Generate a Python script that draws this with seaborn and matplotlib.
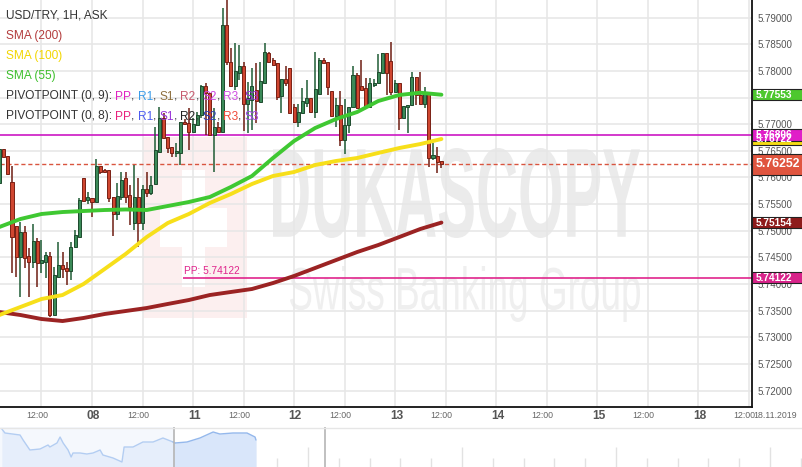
import matplotlib
matplotlib.use("Agg")
import numpy as np
import pandas as pd
import seaborn as sns
import matplotlib.pyplot as plt
import matplotlib.transforms as mtransforms
from matplotlib.patches import Rectangle, PathPatch
from matplotlib.textpath import TextPath
from matplotlib.font_manager import FontProperties

sns.set_theme(style="white")
plt.rcParams["font.family"] = ["Liberation Sans", "DejaVu Sans"]

# ---- data -------------------------------------------------------------
# hourly candles, hour 0 = 08.11.2019 00:00 (weekend skipped)
hours = np.arange(-22, 84)
opens = [5.75897, 5.76535, 5.76403, 5.75915, 5.75089, 5.74508, 5.74977, 5.74527, 5.74414, 5.74808,
         5.74396, 5.74414, 5.74527, 5.73420, 5.74133, 5.74358, 5.74302, 5.74245, 5.74696, 5.74883,
         5.75991, 5.75578, 5.75616, 5.75540, 5.76215, 5.76141, 5.76141, 5.75634, 5.75315, 5.75634,
         5.75991, 5.75671, 5.75146, 5.75634, 5.75146, 5.75784, 5.75709, 5.75878, 5.76478, 5.77116,
         5.76760, 5.76572, 5.76460, 5.76460, 5.77041, 5.77023, 5.76853, 5.76985, 5.77172, 5.77716,
         5.77585, 5.76797, 5.76948, 5.76853, 5.78861, 5.78166, 5.77716, 5.77960, 5.78092, 5.77379,
         5.77454, 5.77641, 5.77416, 5.77773, 5.78336, 5.78204, 5.78148, 5.77529, 5.77848, 5.78054,
         5.77323, 5.77041, 5.77210, 5.77398, 5.77491, 5.77229, 5.77566, 5.78204, 5.78166, 5.77623,
         5.77154, 5.77360, 5.76703, 5.76985, 5.77323, 5.77923, 5.77716, 5.77679, 5.77323, 5.77735,
         5.77773, 5.77960, 5.78336, 5.78186, 5.77604, 5.77773, 5.77116, 5.77323, 5.77360, 5.77885,
         5.77548, 5.77379, 5.77604, 5.76366, 5.76403, 5.76310]
highs = [5.76535, 5.76535, 5.76403, 5.76215, 5.75089, 5.75164, 5.75089, 5.74677, 5.75127, 5.74865,
         5.74827, 5.74602, 5.74602, 5.74321, 5.74789, 5.74602, 5.74414, 5.74789, 5.75015, 5.75616,
         5.75991, 5.75727, 5.75616, 5.76347, 5.76215, 5.76160, 5.76141, 5.75634, 5.75897, 5.76103,
         5.76103, 5.75859, 5.76234, 5.75991, 5.75859, 5.76103, 5.76028, 5.76948, 5.77323, 5.77210,
         5.76760, 5.76572, 5.76647, 5.77041, 5.77098, 5.77304, 5.77116, 5.77229, 5.77735, 5.77773,
         5.77585, 5.77304, 5.77041, 5.79180, 5.79350, 5.78430, 5.78524, 5.78486, 5.78166, 5.77791,
         5.78054, 5.78148, 5.78166, 5.78524, 5.78355, 5.78242, 5.78148, 5.77848, 5.78092, 5.78054,
         5.77379, 5.77379, 5.77679, 5.77829, 5.77491, 5.78355, 5.78242, 5.78242, 5.78166, 5.77623,
         5.77491, 5.77623, 5.77472, 5.77323, 5.78092, 5.77960, 5.78204, 5.77867, 5.77867, 5.77848,
         5.78317, 5.78336, 5.78336, 5.78542, 5.77829, 5.77773, 5.77341, 5.77360, 5.77979, 5.77885,
         5.77979, 5.77697, 5.77604, 5.76647, 5.76572, 5.76310]
lows = [5.75897, 5.76384, 5.76066, 5.74208, 5.74133, 5.73758, 5.74302, 5.73758, 5.74302, 5.73946,
        5.74208, 5.74114, 5.73383, 5.73420, 5.74133, 5.74114, 5.73983, 5.74077, 5.74696, 5.74883,
        5.75559, 5.75503, 5.75259, 5.75540, 5.76066, 5.76084, 5.75540, 5.74902, 5.75202, 5.75578,
        5.75522, 5.75108, 5.75015, 5.74696, 5.75015, 5.75634, 5.75671, 5.75878, 5.76478, 5.76741,
        5.76460, 5.76384, 5.76384, 5.76234, 5.76985, 5.76516, 5.76853, 5.76966, 5.77116, 5.76797,
        5.76797, 5.76103, 5.76853, 5.76853, 5.78110, 5.77716, 5.77641, 5.77829, 5.76872, 5.76835,
        5.76891, 5.77023, 5.77416, 5.77773, 5.78166, 5.78110, 5.77454, 5.77210, 5.77716, 5.77210,
        5.77023, 5.76948, 5.77210, 5.77323, 5.77229, 5.77116, 5.77566, 5.78148, 5.77548, 5.77154,
        5.76948, 5.76591, 5.76441, 5.76835, 5.77323, 5.77285, 5.77641, 5.77323, 5.77323, 5.77697,
        5.77773, 5.77960, 5.77548, 5.77548, 5.77604, 5.76891, 5.77116, 5.76835, 5.77360, 5.77360,
        5.77379, 5.77304, 5.76197, 5.76328, 5.76084, 5.76178]
closes = [5.76535, 5.76384, 5.76066, 5.74883, 5.74508, 5.74977, 5.74490, 5.74414, 5.74808, 5.74396,
          5.74452, 5.74546, 5.73420, 5.74170, 5.74358, 5.74283, 5.74245, 5.74696, 5.74921, 5.75578,
          5.75559, 5.75634, 5.75540, 5.76215, 5.76103, 5.76103, 5.75616, 5.75315, 5.75652, 5.75953,
          5.75634, 5.75447, 5.75634, 5.75146, 5.75784, 5.75709, 5.75859, 5.76516, 5.77116, 5.76741,
          5.76553, 5.76460, 5.76497, 5.77041, 5.77004, 5.76853, 5.77004, 5.77172, 5.77716, 5.77585,
          5.76797, 5.76948, 5.76853, 5.78861, 5.78166, 5.77716, 5.77998, 5.78092, 5.77379, 5.77491,
          5.77716, 5.77435, 5.77810, 5.78355, 5.78166, 5.78110, 5.77510, 5.77848, 5.77773, 5.77210,
          5.77041, 5.77229, 5.77435, 5.77491, 5.77229, 5.77660, 5.78204, 5.78148, 5.77697, 5.77154,
          5.77360, 5.76703, 5.76985, 5.77323, 5.77923, 5.77304, 5.77641, 5.77323, 5.77773, 5.77773,
          5.77979, 5.78336, 5.77960, 5.77604, 5.77773, 5.77116, 5.77341, 5.77360, 5.77885, 5.77548,
          5.77379, 5.77604, 5.76366, 5.76422, 5.76291, 5.76252]

# moving averages, read every 5 candles
sma_hours = np.arange(-22, 84, 5)
sma55 = [5.75071, 5.75221, 5.75315, 5.75352, 5.75371, 5.75390, 5.75400, 5.75390, 5.75465, 5.75540, 5.75634,
         5.75822, 5.76028, 5.76366, 5.76685, 5.76928, 5.77098, 5.77229, 5.77435, 5.77548, 5.77590, 5.77553]
sma100 = [5.73420, 5.73570, 5.73720, 5.73795, 5.74002, 5.74283, 5.74565, 5.74883, 5.75146, 5.75315, 5.75522,
          5.75690, 5.75878, 5.76028, 5.76103, 5.76234, 5.76310, 5.76366, 5.76460, 5.76553, 5.76628, 5.76722]
sma200 = [5.73476, 5.73420, 5.73345, 5.73307, 5.73364, 5.73439, 5.73495, 5.73551, 5.73627, 5.73701, 5.73795,
          5.73852, 5.73908, 5.74020, 5.74152, 5.74302, 5.74452, 5.74602, 5.74733, 5.74883, 5.75034, 5.75154]

pivot_r = 5.76806
pivot_pp = 5.74122
pp_start = 21.6
last_price = closes[-1]

# x axis labels
time_ticks = [-12, 12, 36, 60, 84, 108, 132, 156]
day_ticks = [0, 24, 48, 72, 96, 120, 144]
day_labels = ["08", "11", "12", "13", "14", "15", "18"]
price_ticks = np.arange(5.72, 5.7901, 0.005)

# navigator series (days, relative level)
nav_t = [0.06, 0.16, 0.65, 0.75, 0.97, 1.30, 1.56, 1.62, 1.85, 1.95, 2.05, 2.21, 2.31, 2.37, 2.60, 2.82,
         3.02, 3.25, 3.34, 3.67, 3.96, 4.03, 4.32, 4.64, 4.97, 5.29, 5.62, 5.68, 6.07, 6.49, 6.92, 7.14,
         7.56, 8.02, 8.28, 8.31]
nav_v = [38, 34, 32, 27, 17, 18, 22, 20, 24, 30, 24, 17, 10, 14, 14, 13, 14, 17, 12, 9, 5, 20, 20, 25,
         25, 29, 25, 24, 25, 29, 35, 33, 34, 34, 30, 27]

# ---- figure -----------------------------------------------------------
W, H = 803, 467
AXW, AXH = 752, 407
fig = plt.figure(figsize=(W / 100, H / 100), dpi=100)
ax = fig.add_axes([0, (H - AXH) / H, AXW / W, AXH / H])
ax.set_xlim(-21.85, 156.77)
ax.set_ylim(5.71694, 5.79330)
px_price = (5.79330 - 5.71694) / AXH

# pixel transform inside main axes (x right, y down from top-left)
px = mtransforms.Affine2D().scale(1 / AXW, -1 / AXH).translate(0, 1) + ax.transAxes
blend = mtransforms.blended_transform_factory(ax.transAxes, ax.transData)

# grid + right price axis (the 5.775 label sits fully under the SMA55 box)
ax.set_axisbelow(True)
ax.set_yticks(price_ticks)
ax.set_yticklabels(["" if abs(v - 5.775) < 1e-6 else f"{v:.5f}" for v in price_ticks])
ax.set_xticks(np.arange(-12, 157, 12))
ax.grid(True, color="#e6e6e6", lw=1.1)
ax.yaxis.tick_right()
ax.tick_params(axis="y", length=0, pad=4, labelsize=7, labelcolor="#555555")
ax.tick_params(axis="x", length=0, labelbottom=False)
for s in ["left", "top"]:
    ax.spines[s].set_visible(False)
for s in ["right", "bottom"]:
    ax.spines[s].set_color("#111111")
    ax.spines[s].set_linewidth(1.3)

# watermark
ax.add_patch(Rectangle((143, 137), 104, 181, transform=px, fc="#fcefef", ec="none", zorder=0.2))
ax.add_patch(Rectangle((182, 170), 23, 117, transform=px, fc="white", ec="none", zorder=0.25))
ax.add_patch(Rectangle((160, 208), 67, 39, transform=px, fc="white", ec="none", zorder=0.25))


def fit_text(s, box, color, weight):
    tp = TextPath((0, 0), s, size=100, prop=FontProperties(family="Liberation Sans", weight=weight))
    bb = tp.get_extents()
    x0, y0, x1, y1 = box
    tr = (mtransforms.Affine2D().translate(-bb.x0, -bb.y0)
          .scale((x1 - x0) / bb.width, -(y1 - y0) / bb.height).translate(x0, y1))
    ax.add_patch(PathPatch(tr.transform_path(tp), transform=px, fc=color, ec="none", zorder=0.3))


fit_text("DUKASCOPY", (273, 148, 640, 238), "#ebebeb", "bold")
fit_text("Swiss Banking Group", (290, 266, 640, 322), "#efefef", "normal")

# horizontal levels
ax.axhline(last_price, color="#d9553f", lw=1, ls=(0, (3, 2)), zorder=1)
ax.axhline(pivot_r, color="#cc18c4", lw=1.2, zorder=1)
ax.hlines(pivot_pp, pp_start, 156.77, color="#e0258c", lw=1.2, zorder=1)
ax.text(pp_start + 0.3, pivot_pp + 1.2 * px_price, f"PP: {pivot_pp:.5f}", color="#e0258c",
        fontsize=7.3, ha="left", va="bottom", zorder=1)

# candles
df = pd.DataFrame({"hour": hours, "open": opens, "high": highs, "low": lows, "close": closes})
up = (df["close"] >= df["open"]).values
body_bottom = np.minimum(df["open"], df["close"])
body_h = np.maximum((df["close"] - df["open"]).abs(), 0.00016)
ax.vlines(df["hour"], df["low"], df["high"], colors=np.where(up, "#1f5c35", "#6e1d12"),
          lw=1.1, zorder=2.9)
ax.bar(df["hour"], body_h, bottom=body_bottom, width=0.72,
       color=np.where(up, "#3b8a58", "#cf4630"), edgecolor=np.where(up, "#1e4b2e", "#7a2014"),
       linewidth=0.7, zorder=3)

# moving averages
sns.lineplot(x=sma_hours, y=sma200, ax=ax, color="#9b2323", lw=2.8, zorder=4)
sns.lineplot(x=sma_hours, y=sma100, ax=ax, color="#f7df1a", lw=2.8, zorder=4)
sns.lineplot(x=sma_hours, y=sma55, ax=ax, color="#3fc832", lw=2.8, zorder=4)
ax.set_xlabel("")
ax.set_ylabel("")


# price boxes on the right axis
def price_box(value, fc, h_px, size, tc="white"):
    ax.add_patch(Rectangle((1.0, value - h_px / 2 * px_price), 51 / AXW, h_px * px_price,
                           transform=blend, fc=fc, ec="#222222", lw=0.8, clip_on=False, zorder=7))
    ax.text(1.0 + 3.5 / AXW, value, f"{value:.5f}", transform=blend, color=tc, fontsize=size,
            fontweight="bold", ha="left", va="center", clip_on=False, zorder=7.1)


price_box(sma100[-1], "#f5dc14", 11, 7.3)
price_box(pivot_r, "#e01fc8", 12, 7.3)
price_box(sma55[-1], "#4dc82e", 11, 7.3)
price_box(sma200[-1], "#8e1b1b", 11, 7.3)
price_box(pivot_pp, "#d8238a", 11, 7.3)
price_box(last_price, "#e0553f", 21, 8.8)

# x labels
lab_y = -9 / AXH
xt = mtransforms.blended_transform_factory(ax.transData, ax.transAxes)
for t in time_ticks:
    ax.text(t - 1.1, lab_y, "12:00", transform=xt, fontsize=6.3, color="#666666",
            ha="center", va="center", clip_on=False)
for t, lab in zip(day_ticks, day_labels):
    ax.text(t + 0.3, lab_y, lab, transform=xt, fontsize=8.6, fontweight="bold", color="#555555",
            ha="center", va="center", clip_on=False)
fig.text(775 / W, (H - 416) / H, "18.11.2019", fontsize=6.3, color="#666666", ha="center", va="center")

# legend lines (multi-coloured)
fig.canvas.draw()
renderer = fig.canvas.get_renderer()
fp = FontProperties(family=["Liberation Sans", "DejaVu Sans"], size=8.6)


def text_width(s):
    w = renderer.get_text_width_height_descent(s + "X", fp, ismath=False)[0]
    wx = renderer.get_text_width_height_descent("X", fp, ismath=False)[0]
    return w - wx


def color_line(y, parts):
    x = 6
    for s, c in parts:
        ax.text(x, y, s, transform=px, color=c, fontproperties=fp, ha="left", va="center", zorder=8)
        x += text_width(s)


dark = "#333333"
color_line(15, [("USD/TRY, 1H, ASK", dark)])
color_line(35.5, [("SMA (200)", "#b33c3c")])
color_line(56, [("SMA (100)", "#f2d600")])
color_line(76, [("SMA (55)", "#3dbf2b")])
piv9 = [("PP", "#e022c0"), ("R1", "#3b9be8"), ("S1", "#8e7040"), ("R2", "#c65a6e"),
        ("S2", "#cc40e0"), ("R3", "#d050e0"), ("S3", "#9b30d9")]
piv8 = [("PP", "#e8207e"), ("R1", "#4c5cf0"), ("S1", "#9a36d8"), ("R2", "#222222"),
        ("S2", "#2e3fb8"), ("R3", "#f04a3a"), ("S3", "#a648ee")]
for y, head, items in [(96.5, "PIVOTPOINT (0, 9): ", piv9), (116.5, "PIVOTPOINT (0, 8): ", piv8)]:
    parts = [(head, dark)]
    for i, (s, c) in enumerate(items):
        parts.append((s, c))
        if i < len(items) - 1:
            parts.append((", ", dark))
    color_line(y, parts)

# navigator
nav = fig.add_axes([0, 0, 1, 40 / H])
nav.set_xlim(0, W / 30.8)
nav.set_ylim(0, 40)
nav.axis("off")
nav.add_patch(Rectangle((0, 0), 5.65, 40, fc="#f5f8fd", ec="none", zorder=0))
nav_t = np.array(nav_t)
nav_v = np.array(nav_v)
nav.fill_between(nav_t, 0, nav_v, color="#e6eefb", lw=0, zorder=1)
sel = nav_t >= 5.62
nav.fill_between(nav_t[sel], 0, nav_v[sel], color="#d9e6fa", lw=0, zorder=1.1)
sns.lineplot(x=nav_t[nav_t <= 5.68], y=nav_v[nav_t <= 5.68], ax=nav, color="#b3cdf2", lw=1, zorder=2)
sns.lineplot(x=nav_t[sel], y=nav_v[sel], ax=nav, color="#94b8ec", lw=1, zorder=2)
for d in range(1, 27):
    nav.vlines(d, 0, 20 if d % 5 == 0 else 9, color="#e2e2e2", lw=1, zorder=0.5)
nav.vlines([5.65, 10.55], 0, 40, color="#b5b5b5", lw=1.2, zorder=3)
nav.axhline(39.5, color="#e6e6e6", lw=1, zorder=3)
nav.set_xlabel("")
nav.set_ylabel("")

fig.savefig("out.png", dpi=100)
